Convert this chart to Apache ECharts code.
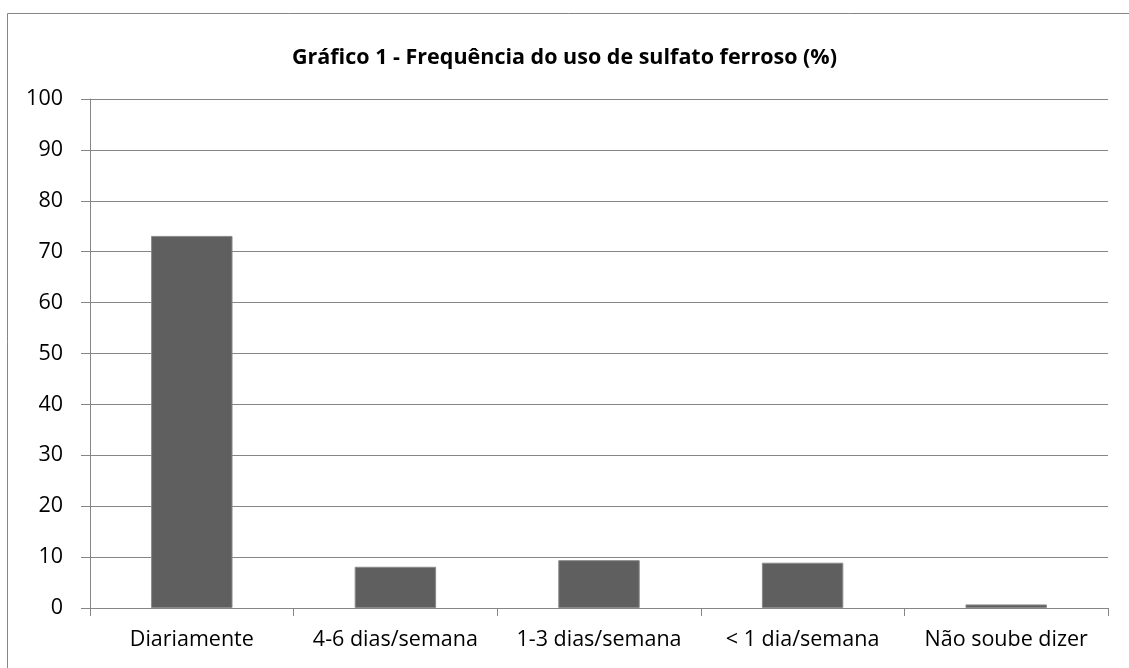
<!DOCTYPE html>
<html>
<head>
<meta charset="utf-8">
<script src="https://cdn.jsdelivr.net/npm/echarts@6/dist/echarts.min.js"></script>
<style>
html, body { margin: 0; padding: 0; background: #fff; }
#container { width: 1129px; height: 668px; }
</style>
</head>
<body>
<div id="container"></div>
<script>
var titleText = 'Gráfico 1 - Frequência do uso de sulfato ferroso (%)';
var categories = ['Diariamente', '4-6 dias/semana', '1-3 dias/semana', '< 1 dia/semana', 'Não soube dizer'];
var values = [73.1, 8.1, 9.4, 8.9, 0.7];
var yTicks = { min: 0, max: 100, interval: 10 };

var myChart = echarts.init(document.getElementById('container'));
var font = '"Open Sans", "Liberation Sans", sans-serif';

var option = {
    backgroundColor: '#fff',
    animation: false,
    graphic: [
        {
            type: 'rect',
            shape: { x: 7.5, y: 13.5, width: 1130, height: 700 },
            style: { fill: 'none', stroke: '#868686', lineWidth: 1 },
            silent: true
        }
    ],
    title: {
        text: titleText,
        left: 'center',
        top: 42,
        textStyle: { fontFamily: font, fontSize: 21.5, fontWeight: 'bold', color: '#000' }
    },
    grid: { left: 90, right: 21, top: 99, bottom: 60, containLabel: false },
    xAxis: {
        type: 'category',
        data: categories,
        axisLine: { lineStyle: { color: '#868686' } },
        axisTick: { show: true, length: 8, alignWithLabel: false, lineStyle: { color: '#868686' } },
        axisLabel: { fontFamily: font, fontSize: 21.5, color: '#000', margin: 21, interval: 0 }
    },
    yAxis: {
        type: 'value',
        min: yTicks.min,
        max: yTicks.max,
        interval: yTicks.interval,
        axisLine: { show: true, lineStyle: { color: '#868686' } },
        axisTick: { show: true, length: 9, lineStyle: { color: '#868686' } },
        axisLabel: { fontFamily: font, fontSize: 21.5, color: '#000', margin: 27 },
        splitLine: { lineStyle: { color: '#868686', width: 1 } }
    },
    series: [
        {
            type: 'bar',
            data: values,
            barWidth: '40%',
            itemStyle: { color: '#5f5f5f', borderColor: '#8a8a8a', borderWidth: 1 }
        }
    ]
};
myChart.setOption(option);
</script>
</body>
</html>
